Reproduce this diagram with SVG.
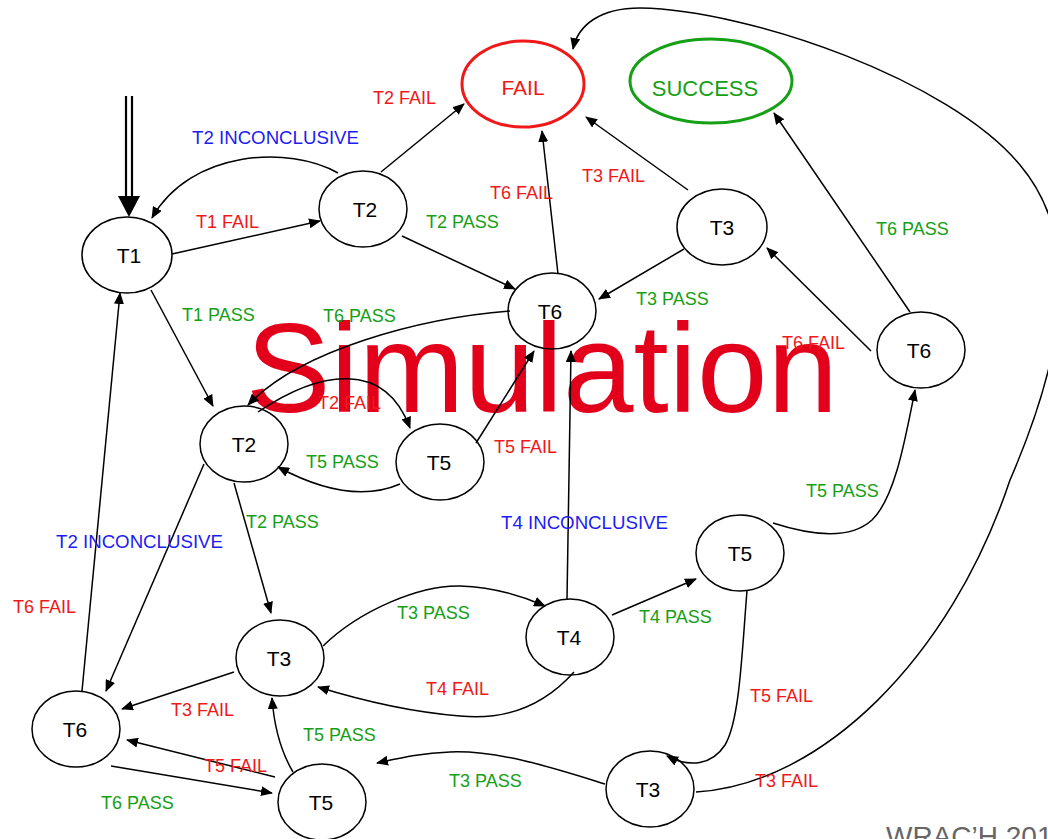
<svg xmlns="http://www.w3.org/2000/svg" width="1048" height="839" viewBox="0 0 1048 839">
<defs>
<marker id="ah" viewBox="0 0 12 10" refX="11" refY="5" markerWidth="12" markerHeight="10" markerUnits="userSpaceOnUse" orient="auto">
<path d="M0,0 L12,5 L0,10 z" fill="#000"/>
</marker>
</defs>
<style>
.n{fill:none;stroke:#000;stroke-width:1.5}
.t{font-family:"Liberation Sans",Arial,sans-serif;font-size:21px;fill:#000;text-anchor:middle}
.e{fill:none;stroke:#000;stroke-width:1.5;marker-end:url(#ah)}
.l{font-family:"Liberation Sans",Arial,sans-serif;font-size:18px}
.r{fill:#f01818}.g{fill:#15a015}.b{fill:#1c1cf5}
</style>
<rect width="1048" height="839" fill="#fff"/>
<text x="246" y="412" font-family="'Liberation Sans',Arial,sans-serif" font-size="127" fill="#e3001b" textLength="592" lengthAdjust="spacingAndGlyphs">Simulation</text>
<text x="886" y="846" font-family="'Liberation Sans',Arial,sans-serif" font-size="28" fill="#666">WRAC’H 201</text>

<g id="connectors">
<line x1="126" y1="96" x2="126" y2="198" stroke="#000" stroke-width="2.2"/>
<line x1="132" y1="96" x2="132" y2="198" stroke="#000" stroke-width="2.2"/>
<polygon points="118,196 140,196 129,217" fill="#000"/>
<path class="e" d="M338 173 C290 145 190 150 152 218"/>
<path class="e" d="M172 254 L320 221"/>
<path class="e" d="M381 172 L464 104"/>
<path class="e" d="M402 236 L515 289"/>
<path class="e" d="M558 274 L542 131"/>
<path class="e" d="M688 190 L586 117"/>
<path class="e" d="M684 249 L599 299"/>
<path class="e" d="M910 312 L774 113"/>
<path class="e" d="M871 351 L767 248"/>
<path class="e" d="M696 792 C820 785 950 660 1010 480 C1075 330 1075 230 1020 165 C950 80 750 10 640 8 C600 8 578 25 573 49"/>
<path class="e" d="M510 311 C420 318 300 350 248 405"/>
<path class="e" d="M258 412 C320 370 385 360 410 428"/>
<path class="e" d="M400 484 C370 497 330 495 278 467"/>
<path class="e" d="M476 443 L534 351"/>
<path class="e" d="M567 599 L571 351"/>
<path class="e" d="M151 290 L213 406"/>
<path class="e" d="M82 691 L120 293"/>
<path class="e" d="M204 464 L106 691"/>
<path class="e" d="M234 483 L271 613"/>
<path class="e" d="M323 646 C360 610 420 585 460 586 C490 587 520 595 545 606"/>
<path class="e" d="M574 672 C540 710 500 720 460 716 C410 712 360 700 318 687"/>
<path class="e" d="M612 615 L696 579"/>
<path class="e" d="M773 523 C810 535 850 540 872 520 C895 498 905 440 915 390"/>
<path class="e" d="M747 591 C742 650 740 720 725 745 C712 765 690 768 667 756"/>
<path class="e" d="M605 784 C560 770 500 750 450 752 C420 753 400 758 377 763"/>
<path class="e" d="M234 672 L122 709"/>
<path class="e" d="M275 777 L127 740"/>
<path class="e" d="M111 766 L272 793"/>
<path class="e" d="M293 772 C280 750 274 725 272 698"/>
</g>

<g id="labels">
<text class="l r" x="373" y="104">T2 FAIL</text>
<text class="l b" x="192" y="144" textLength="167" lengthAdjust="spacingAndGlyphs">T2 INCONCLUSIVE</text>
<text class="l r" x="196" y="228">T1 FAIL</text>
<text class="l g" x="426" y="228">T2 PASS</text>
<text class="l r" x="490" y="199">T6 FAIL</text>
<text class="l r" x="582" y="182">T3 FAIL</text>
<text class="l g" x="876" y="235">T6 PASS</text>
<text class="l g" x="636" y="305">T3 PASS</text>
<text class="l r" x="782" y="349">T6 FAIL</text>
<text class="l g" x="182" y="321">T1 PASS</text>
<text class="l g" x="323" y="322">T6 PASS</text>
<text class="l r" x="318" y="409">T2 FAIL</text>
<text class="l g" x="306" y="468">T5 PASS</text>
<text class="l r" x="494" y="453">T5 FAIL</text>
<text class="l g" x="246" y="528">T2 PASS</text>
<text class="l b" x="56" y="548" textLength="167" lengthAdjust="spacingAndGlyphs">T2 INCONCLUSIVE</text>
<text class="l r" x="13" y="613">T6 FAIL</text>
<text class="l r" x="171" y="716">T3 FAIL</text>
<text class="l g" x="303" y="741">T5 PASS</text>
<text class="l r" x="204" y="772">T5 FAIL</text>
<text class="l g" x="101" y="809">T6 PASS</text>
<text class="l b" x="501" y="529" textLength="167" lengthAdjust="spacingAndGlyphs">T4 INCONCLUSIVE</text>
<text class="l g" x="397" y="619">T3 PASS</text>
<text class="l g" x="639" y="623">T4 PASS</text>
<text class="l r" x="426" y="695">T4 FAIL</text>
<text class="l r" x="750" y="702">T5 FAIL</text>
<text class="l g" x="449" y="787">T3 PASS</text>
<text class="l r" x="755" y="787">T3 FAIL</text>
<text class="l g" x="806" y="497">T5 PASS</text>
</g>

<g id="FAIL"><ellipse cx="523" cy="84" rx="61" ry="43" fill="none" stroke="#f01818" stroke-width="3"/><text x="523" y="95" font-family="'Liberation Sans',Arial,sans-serif" font-size="21" fill="#f01818" text-anchor="middle">FAIL</text></g>
<g id="SUCCESS"><ellipse cx="711" cy="81" rx="81" ry="42" fill="none" stroke="#15a015" stroke-width="3"/><text x="705" y="96" font-family="'Liberation Sans',Arial,sans-serif" font-size="22" fill="#15a015" text-anchor="middle">SUCCESS</text></g>
<g id="T1"><ellipse class="n" cx="127" cy="255" rx="45" ry="38"/><text class="t" x="129" y="263">T1</text></g>
<g id="T2a"><ellipse class="n" cx="363" cy="209" rx="44" ry="38"/><text class="t" x="365" y="217">T2</text></g>
<g id="T3a"><ellipse class="n" cx="722" cy="227" rx="45" ry="38"/><text class="t" x="722" y="235">T3</text></g>
<g id="T6a"><ellipse class="n" cx="921" cy="350" rx="44" ry="38"/><text class="t" x="919" y="358">T6</text></g>
<g id="T6b"><ellipse class="n" cx="552" cy="311" rx="44" ry="38"/><text class="t" x="550" y="319">T6</text></g>
<g id="T2b"><ellipse class="n" cx="244" cy="444" rx="44" ry="38"/><text class="t" x="244" y="452">T2</text></g>
<g id="T5a"><ellipse class="n" cx="440" cy="462" rx="44" ry="38"/><text class="t" x="439" y="470">T5</text></g>
<g id="T3b"><ellipse class="n" cx="280" cy="658" rx="44" ry="38"/><text class="t" x="279" y="666">T3</text></g>
<g id="T6c"><ellipse class="n" cx="76" cy="729" rx="44" ry="38"/><text class="t" x="75" y="737">T6</text></g>
<g id="T5b"><ellipse class="n" cx="322" cy="802" rx="44" ry="38"/><text class="t" x="321" y="810">T5</text></g>
<g id="T4"><ellipse class="n" cx="570" cy="637" rx="44" ry="38"/><text class="t" x="569" y="645">T4</text></g>
<g id="T5c"><ellipse class="n" cx="740" cy="553" rx="44" ry="38"/><text class="t" x="740" y="561">T5</text></g>
<g id="T3c"><ellipse class="n" cx="650" cy="789" rx="44" ry="38"/><text class="t" x="648" y="797">T3</text></g>
</svg>
